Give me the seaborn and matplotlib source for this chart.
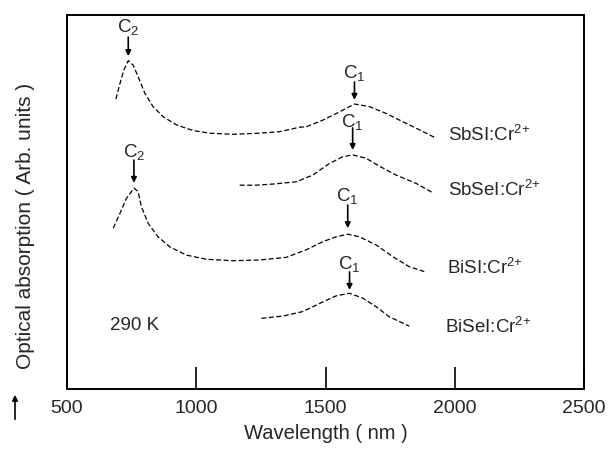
import numpy as np
import pandas as pd
import seaborn as sns
import matplotlib
matplotlib.use('Agg')
import matplotlib.pyplot as plt

# 读取自图片的数据 (波长 nm, 吸收 任意单位)
sbsi_wl = [689, 705, 720, 737, 756, 775, 801, 833, 872, 924, 988, 1052, 1142, 1245,
           1322, 1400, 1425, 1490, 1554, 1612, 1670, 1734, 1798, 1863, 1921]
sbsi_abs = [0.775, 0.817, 0.853, 0.878, 0.866, 0.835, 0.791, 0.755, 0.728, 0.706, 0.691,
            0.684, 0.681, 0.684, 0.688, 0.700, 0.701, 0.719, 0.741, 0.762, 0.755, 0.737,
            0.715, 0.693, 0.673]

sbsei_wl = [1168, 1232, 1297, 1387, 1451, 1515, 1567, 1605, 1657, 1708, 1773, 1850, 1914]
sbsei_abs = [0.545, 0.545, 0.548, 0.554, 0.572, 0.603, 0.621, 0.626, 0.617, 0.596,
             0.572, 0.550, 0.525]

bisi_wl = [679, 705, 730, 759, 775, 788, 814, 852, 898, 962, 1039, 1142, 1245, 1348,
           1425, 1490, 1541, 1586, 1631, 1696, 1760, 1824, 1882]
bisi_abs = [0.430, 0.470, 0.510, 0.537, 0.528, 0.487, 0.443, 0.407, 0.380, 0.358, 0.347,
            0.343, 0.345, 0.352, 0.372, 0.394, 0.407, 0.414, 0.407, 0.385, 0.354, 0.327,
            0.314]

bisei_wl = [1252, 1335, 1412, 1490, 1541, 1593, 1644, 1696, 1747, 1824]
bisei_abs = [0.189, 0.195, 0.207, 0.233, 0.249, 0.256, 0.243, 0.220, 0.193, 0.168]

sample_names = ['SbSI:Cr$^{2{+}}$', 'SbSeI:Cr$^{2{+}}$', 'BiSI:Cr$^{2{+}}$', 'BiSeI:Cr$^{2{+}}$']
label_pos = [(1975, 0.679), (1975, 0.532), (1971, 0.324), (1963, 0.166)]

# 峰标记: (文字, 波长, 文字高度, 箭头起点, 箭头终点)
peak_marks = [('C$_2$', 737, 0.968, 0.941, 0.890),
              ('C$_2$', 759, 0.634, 0.612, 0.551),
              ('C$_1$', 1612, 0.845, 0.821, 0.773),
              ('C$_1$', 1605, 0.714, 0.698, 0.639),
              ('C$_1$', 1586, 0.516, 0.492, 0.430),
              ('C$_1$', 1593, 0.334, 0.313, 0.265)]

xtick_vals = [500, 1000, 1500, 2000, 2500]

sns.set_style('ticks')
plt.rcParams['font.family'] = ['Liberation Sans', 'DejaVu Sans']
plt.rcParams['mathtext.fontset'] = 'custom'
plt.rcParams['mathtext.rm'] = 'Liberation Sans'
plt.rcParams['mathtext.it'] = 'Liberation Sans'

fig = plt.figure(figsize=(6.09, 4.49), dpi=100)
ax = fig.add_axes([0.110, 0.1336, 0.849, 0.833])

curves = [(sbsi_wl, sbsi_abs), (sbsei_wl, sbsei_abs), (bisi_wl, bisi_abs), (bisei_wl, bisei_abs)]
for wl, ab in curves:
    df = pd.DataFrame({'wl': wl, 'abs': ab})
    sns.lineplot(data=df, x='wl', y='abs', color='k', lw=0.9, linestyle=(0, (4, 2)), ax=ax)

for (x, y), name in zip(label_pos, sample_names):
    ax.text(x, y, name, fontsize=13.5, ha='left', va='center')

for txt, x, ty, y0, y1 in peak_marks:
    ax.text(x, ty, txt, fontsize=13.5, ha='center', va='center')
    ax.annotate('', xy=(x, y1), xytext=(x, y0),
                arrowprops=dict(arrowstyle='-|>', color='k', lw=1.2, mutation_scale=8,
                                shrinkA=0, shrinkB=0))

ax.text(763, 0.171, '290 K', fontsize=13.5, ha='center', va='center')

ax.set_xlim(500, 2500)
ax.set_ylim(0, 1)
ax.set_xticks(xtick_vals)
ax.set_yticks([])
ax.tick_params(axis='x', direction='in', length=16, width=1.4, labelsize=14, pad=8)
for sp in ax.spines.values():
    sp.set_visible(True)
    sp.set_linewidth(1.4)
    sp.set_color('k')
ax.set_xlabel('Wavelength ( nm )', fontsize=14.5, labelpad=5)
ax.set_ylabel('')

fig.text(26 / 609, 1 - 226 / 449, 'Optical absorption ( Arb. units )', rotation=90,
         fontsize=15, ha='center', va='center')
fig.patches.append(matplotlib.patches.FancyArrowPatch(
    (15 / 609, 1 - 422 / 449), (15 / 609, 1 - 392 / 449), transform=fig.transFigure,
    arrowstyle='-|>', mutation_scale=8, color='k', lw=1.2))

plt.savefig('out.png', dpi=100)
